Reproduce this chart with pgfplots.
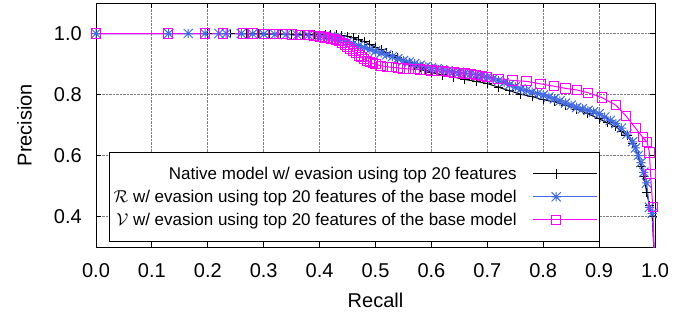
\documentclass[border=0pt]{standalone}
\usepackage{pgfplots}
\pgfplotsset{compat=1.18}
\usepackage{fontspec}
\setmainfont{Liberation Sans}
\definecolor{rblue}{RGB}{65,105,225}
\definecolor{vmag}{RGB}{255,0,255}
\pgfdeclareplotmark{plusx}{%
  \pgfpathmoveto{\pgfqpoint{-\pgfplotmarksize}{0pt}}\pgfpathlineto{\pgfqpoint{\pgfplotmarksize}{0pt}}%
  \pgfpathmoveto{\pgfqpoint{0pt}{-\pgfplotmarksize}}\pgfpathlineto{\pgfqpoint{0pt}{\pgfplotmarksize}}%
  \pgfpathmoveto{\pgfqpoint{-\pgfplotmarksize}{-\pgfplotmarksize}}\pgfpathlineto{\pgfqpoint{\pgfplotmarksize}{\pgfplotmarksize}}%
  \pgfpathmoveto{\pgfqpoint{-\pgfplotmarksize}{\pgfplotmarksize}}\pgfpathlineto{\pgfqpoint{\pgfplotmarksize}{-\pgfplotmarksize}}%
  \pgfusepathqstroke}
\begin{document}
\begin{tikzpicture}
\begin{axis}[
  at={(0,0)}, anchor=south west,
  scale only axis, width=559pt, height=244pt,
  xmin=0, xmax=1, ymin=0.3, ymax=1.1,
  xtick={0,0.1,...,1.0}, ytick={0.4,0.6,0.8,1.0},
  grid=major, grid style={densely dotted, gray, line width=0.9pt},
  axis line style={line width=1pt},
  major tick length=5pt, tick style={line width=0.9pt, black},
  tick align=inside,
  /pgf/number format/assume math mode=true,
  /pgf/number format/fixed,
  /pgf/number format/fixed zerofill,
  /pgf/number format/precision=1,
  ticklabel style={font=\fontsize{20}{24}\selectfont},
  xticklabel style={anchor=base, inner sep=0pt, yshift=-30pt},
  yticklabel style={anchor=east, inner sep=0pt, xshift=-14pt},
  xlabel={Recall}, ylabel={Precision},
  label style={font=\fontsize{20}{24}\selectfont},
  xlabel style={at={(axis description cs:0.5,-0.2459)}, anchor=base, inner sep=0pt},
  ylabel style={at={(axis description cs:-0.1145,0.5)}, anchor=south, inner sep=0pt},
  mark size=4.6pt,
  legend plot pos=right,
  legend cell align=right,
  legend image code/.code={%
    \path (0pt,0pt) -- (64pt,0pt);
    \draw[mark repeat=2,mark phase=2,#1] plot coordinates {(0pt,0pt) (23pt,0pt) (46pt,0pt)};},
  legend style={at={(axis description cs:0.902,0.389)}, anchor=north east,
    font=\fontsize{17}{19}\selectfont, draw=black, line width=1pt, fill=white,
    inner xsep=2pt, inner ysep=12.5pt, row sep=5pt,
    /tikz/every odd column/.append style={column sep=14pt}},
]
\addplot[black, line width=1pt, mark=+, mark options={line width=1pt}] coordinates {
(0.0,1.0) (0.13,1.0) (0.2,1.0) (0.24,1.0) (0.27,0.999) (0.29,0.999) (0.31,0.998) (0.33,0.998)
(0.35,0.997) (0.37,0.997) (0.39,0.996) (0.41,0.996) (0.42,0.996) (0.43,0.995) (0.44,0.993)
(0.45,0.99) (0.46,0.986) (0.47,0.980) (0.48,0.973) (0.49,0.964) (0.50,0.955) (0.51,0.946)
(0.52,0.937) (0.53,0.928) (0.54,0.920) (0.55,0.912) (0.56,0.904) (0.57,0.896) (0.58,0.888)
(0.59,0.880) (0.60,0.872) (0.62,0.864) (0.64,0.857) (0.66,0.849) (0.68,0.843) (0.70,0.836)
(0.72,0.824) (0.74,0.812) (0.76,0.801) (0.78,0.793) (0.80,0.783) (0.82,0.776) (0.84,0.765)
(0.86,0.752) (0.88,0.737) (0.90,0.720) (0.915,0.707) (0.93,0.694) (0.94,0.680) (0.95,0.665)
(0.96,0.640) (0.97,0.600) (0.975,0.565) (0.98,0.530) (0.985,0.480) (0.99,0.435) (0.995,0.40)
(1.0,0.22)
};
\addlegendentry{Native model w/ evasion using top 20 features}
\addplot[rblue, line width=1pt, mark=plusx, mark options={line width=1pt}] coordinates {
(0.0,1.0) (0.13,1.0) (0.165,1.0) (0.195,1.0) (0.22,1.0) (0.233,1.0) (0.26,1.0) (0.28,0.999)
(0.30,0.998) (0.32,0.997) (0.34,0.996) (0.36,0.995) (0.38,0.994) (0.40,0.993) (0.41,0.992)
(0.42,0.99) (0.43,0.986) (0.44,0.98) (0.45,0.973) (0.46,0.966) (0.47,0.96) (0.48,0.954)
(0.49,0.948) (0.50,0.942) (0.51,0.936) (0.52,0.93) (0.53,0.924) (0.54,0.917) (0.55,0.911)
(0.56,0.906) (0.57,0.901) (0.58,0.896) (0.59,0.891) (0.60,0.887) (0.61,0.884) (0.62,0.881)
(0.63,0.878) (0.64,0.875) (0.65,0.873) (0.66,0.870) (0.67,0.868) (0.68,0.865) (0.69,0.861)
(0.70,0.856) (0.71,0.851) (0.72,0.845) (0.73,0.839) (0.74,0.832) (0.75,0.825) (0.76,0.818)
(0.77,0.813) (0.78,0.808) (0.79,0.803) (0.80,0.798) (0.81,0.792) (0.82,0.786) (0.83,0.779)
(0.84,0.772) (0.85,0.765) (0.86,0.758) (0.87,0.753) (0.88,0.748) (0.89,0.743) (0.90,0.737)
(0.91,0.726) (0.92,0.715) (0.93,0.705) (0.94,0.690) (0.95,0.670) (0.96,0.645) (0.965,0.625)
(0.97,0.600) (0.975,0.577) (0.98,0.545) (0.985,0.51) (0.99,0.43) (0.995,0.41) (1.0,0.22)
};
\addlegendentry{$\mathcal{R}$ w/ evasion using top 20 features of the base model}
\addplot[vmag, line width=1pt, mark=square, mark options={line width=1pt}] coordinates {
(0.0,1.0) (0.129,1.0) (0.195,1.0) (0.227,1.0) (0.263,1.0) (0.281,1.0) (0.30,0.999) (0.317,0.998)
(0.335,0.998) (0.35,0.997) (0.365,0.995) (0.38,0.994) (0.39,0.992) (0.40,0.99) (0.405,0.989) (0.41,0.987)
(0.415,0.985) (0.42,0.983) (0.425,0.981) (0.43,0.978) (0.435,0.975) (0.44,0.97) (0.445,0.964) (0.45,0.957)
(0.455,0.95) (0.46,0.942) (0.465,0.935) (0.47,0.928) (0.475,0.922) (0.48,0.916) (0.485,0.911)
(0.49,0.906) (0.495,0.902) (0.50,0.899) (0.51,0.894) (0.52,0.891) (0.53,0.889) (0.54,0.887) (0.55,0.885)
(0.56,0.884) (0.57,0.883) (0.58,0.882) (0.59,0.880) (0.60,0.879) (0.61,0.877) (0.62,0.876)
(0.63,0.874) (0.64,0.872) (0.65,0.871) (0.66,0.869) (0.67,0.867) (0.68,0.864) (0.69,0.861)
(0.70,0.858) (0.72,0.852) (0.745,0.846) (0.77,0.843) (0.795,0.835) (0.82,0.827) (0.84,0.82)
(0.86,0.815) (0.88,0.806) (0.905,0.79) (0.93,0.765) (0.948,0.73) (0.965,0.69) (0.978,0.66)
(0.986,0.643) (0.99,0.61) (0.992,0.54) (0.996,0.43) (1.0,0.22)
};
\addlegendentry{$\mathcal{V}$ w/ evasion using top 20 features of the base model}
\end{axis}
\pgfresetboundingbox
\path[use as bounding box] (-96pt,-67pt) rectangle (596pt,247pt);
\end{tikzpicture}
\end{document}
